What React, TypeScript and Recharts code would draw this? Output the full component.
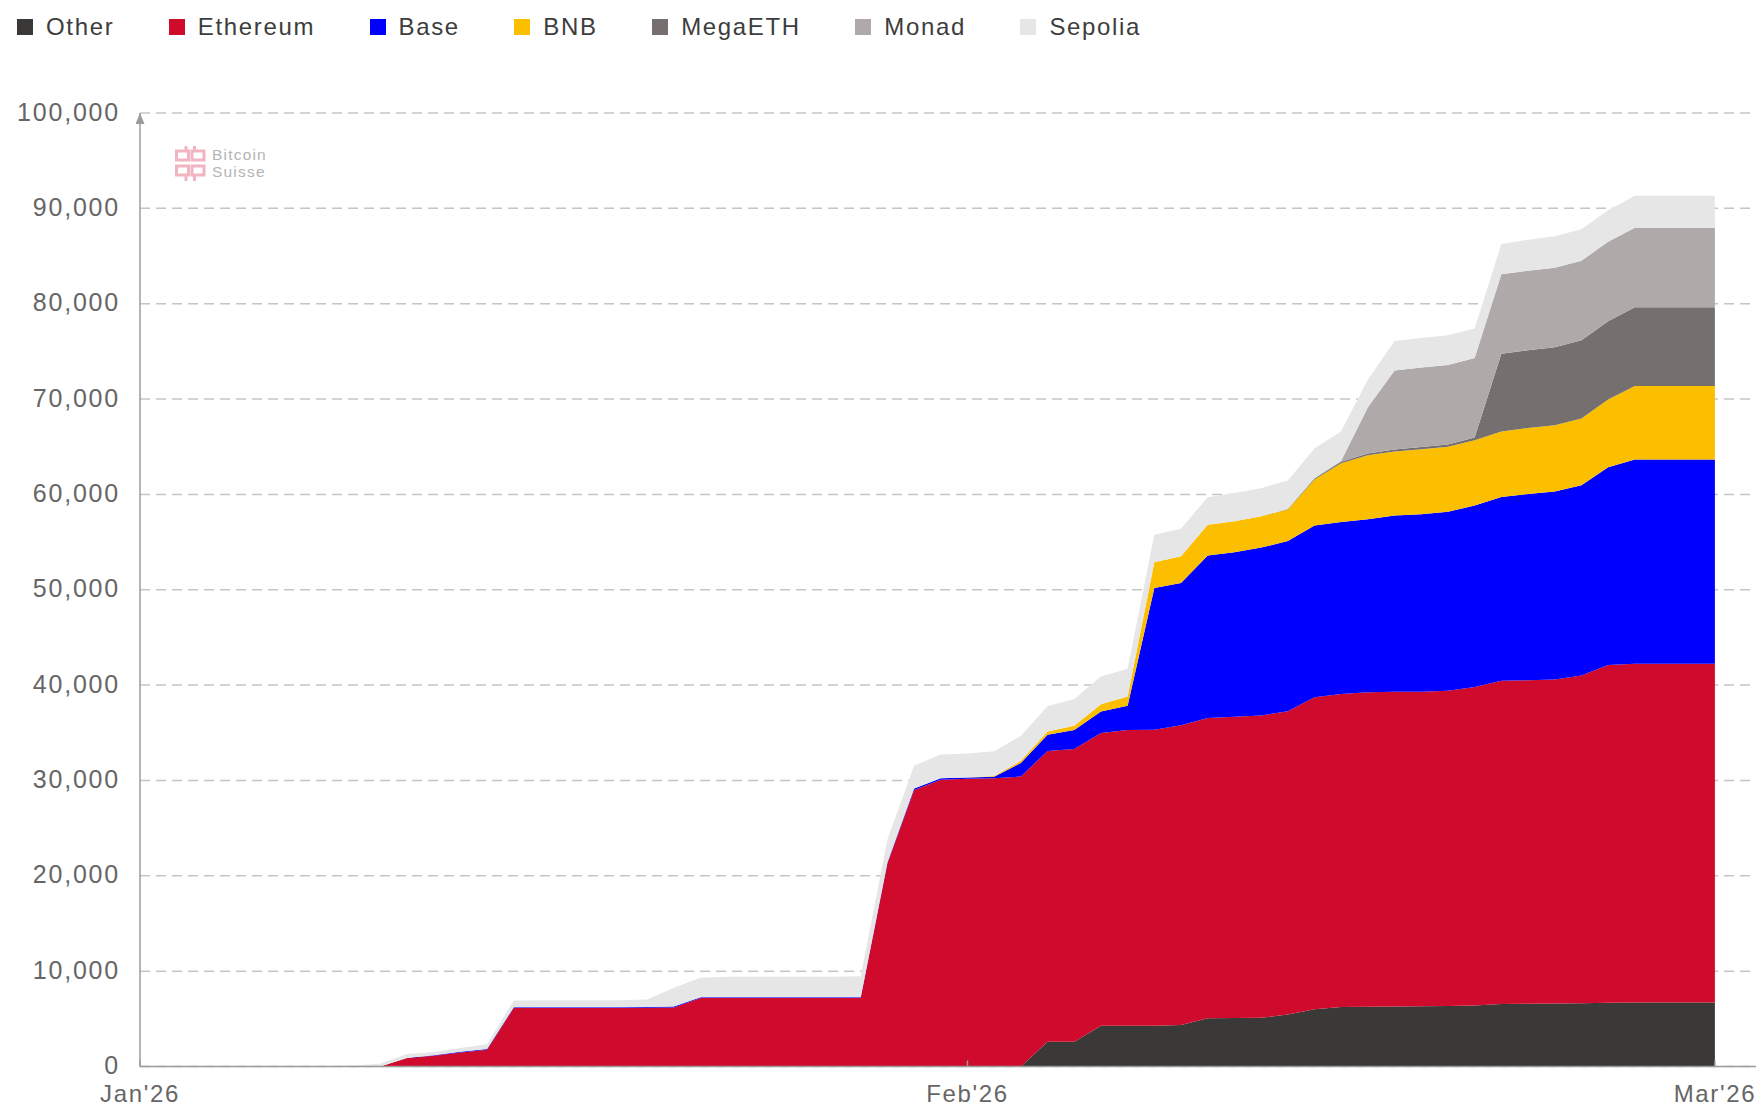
import { AreaChart, Area, XAxis, YAxis, CartesianGrid } from "recharts";

// day index 0 = 1 Jan 2026, 59 = 1 Mar 2026
const days = Array.from({ length: 60 }, (_, i) => i);

const xTickDays = [0, 31, 59];
const xTickLabels = ["Jan'26", "Feb'26", "Mar'26"];
const yTicks = [0, 10000, 20000, 30000, 40000, 50000, 60000, 70000, 80000, 90000, 100000];

const seriesNames = ["Other", "Ethereum", "Base", "BNB", "MegaETH", "Monad", "Sepolia"];
const seriesColors = ["#3a3937", "#cf0a2c", "#0000ff", "#fbbf00", "#75706f", "#afaaa9", "#e6e6e6"];

const other = [
  0, 0, 0, 0, 0, 0, 0, 0, 0, 0,
  0, 0, 0, 0, 0, 0, 0, 0, 0, 0,
  0, 0, 0, 0, 0, 0, 0, 0, 0, 0,
  0, 0, 0, 0, 2600, 2600, 4270, 4270, 4280, 4350,
  5070, 5080, 5100, 5450, 6000, 6250, 6270, 6300, 6320, 6350,
  6400, 6550, 6580, 6600, 6630, 6680, 6720, 6720, 6720, 6720,
];
const ethereum = [
  0, 0, 0, 0, 0, 0, 0, 0, 0, 0,
  880, 1120, 1470, 1750, 6140, 6140, 6140, 6140, 6140, 6160,
  6200, 7190, 7190, 7190, 7190, 7190, 7190, 7190, 21300, 29000,
  30070, 30170, 30240, 30420, 30500, 30700, 30700, 31030, 31050, 31440,
  31490, 31590, 31720, 31820, 32730, 32810, 32980, 32990, 32990, 33050,
  33400, 33900, 33920, 34000, 34370, 35420, 35530, 35530, 35530, 35530,
];
const base = [
  0, 0, 0, 0, 0, 0, 0, 0, 0, 0,
  0, 50, 80, 80, 80, 80, 80, 80, 80, 80,
  80, 80, 80, 80, 80, 80, 80, 80, 100, 150,
  150, 150, 150, 1400, 1690, 2000, 2270, 2530, 14850, 14910,
  17020, 17260, 17610, 17830, 18010, 18050, 18150, 18510, 18600, 18770,
  19040, 19290, 19540, 19700, 19970, 20750, 21420, 21420, 21420, 21420,
];
const bnb = [
  0, 0, 0, 0, 0, 0, 0, 0, 0, 0,
  0, 0, 0, 0, 0, 0, 0, 0, 0, 0,
  0, 0, 0, 0, 0, 0, 0, 0, 0, 0,
  0, 0, 70, 240, 350, 430, 760, 980, 2700, 2810,
  3230, 3260, 3270, 3320, 4820, 6160, 6700, 6700, 6820, 6820,
  6830, 6860, 6930, 6940, 7000, 7110, 7710, 7710, 7710, 7710,
];
const megaeth = [
  0, 0, 0, 0, 0, 0, 0, 0, 0, 0,
  0, 0, 0, 0, 0, 0, 0, 0, 0, 0,
  0, 0, 0, 0, 0, 0, 0, 0, 0, 0,
  0, 0, 0, 0, 0, 0, 0, 0, 0, 0,
  0, 0, 0, 50, 100, 150, 200, 200, 250, 250,
  300, 8140, 8150, 8200, 8200, 8210, 8240, 8240, 8240, 8240,
];
const monad = [
  0, 0, 0, 0, 0, 0, 0, 0, 0, 0,
  0, 0, 0, 0, 0, 0, 0, 0, 0, 0,
  0, 0, 0, 0, 0, 0, 0, 0, 0, 0,
  0, 0, 0, 0, 0, 0, 0, 0, 0, 0,
  0, 0, 0, 0, 50, 100, 4850, 8300, 8320, 8340,
  8340, 8340, 8340, 8340, 8340, 8340, 8340, 8340, 8340, 8340,
];
const sepolia = [
  0, 0, 0, 0, 10, 20, 30, 50, 100, 300,
  420, 350, 400, 500, 700, 720, 720, 720, 720, 780,
  1970, 2030, 2130, 2130, 2130, 2130, 2130, 2200, 2400, 2400,
  2500, 2500, 2600, 2620, 2650, 2800, 2900, 2900, 2900, 2900,
  2900, 2950, 2950, 3000, 3100, 3100, 2900, 3100, 3100, 3100,
  3100, 3180, 3250, 3300, 3300, 3300, 3370, 3370, 3370, 3370,
];

const seriesValues = [other, ethereum, base, bnb, megaeth, monad, sepolia];

const rows = days.map((day, i) => {
  const row: Record<string, number> = { day };
  seriesNames.forEach((name, s) => {
    row[name] = seriesValues[s][i];
  });
  return row;
});

const FONT = '"Liberation Sans", Arial, sans-serif';
const SPACING = 1.65;

function YTick({ x, y, payload }: any) {
  return (
    <text x={x} y={y} dy={7.5} textAnchor="end" fill="#666" fontSize={25} fontFamily={FONT} style={{ letterSpacing: 1.8 }}>
      {Number(payload.value).toLocaleString("en-US")}
    </text>
  );
}

function XTick({ x, y, payload }: any) {
  const idx = xTickDays.indexOf(payload.value);
  return (
    <g>
      <line x1={x} x2={x} y1={y - 6} y2={y} stroke="#9b9b9b" strokeWidth={1.5} />
      <text x={x} y={y + 35} textAnchor="middle" fill="#666" fontSize={24} fontFamily={FONT} style={{ letterSpacing: SPACING }}>
        {idx >= 0 ? xTickLabels[idx] : ""}
      </text>
    </g>
  );
}

function Legend() {
  return (
    <div style={{ position: "absolute", left: 17, top: 13, display: "flex", alignItems: "center", lineHeight: "28px", fontSize: 24, fontFamily: FONT, color: "#3d3d3d", letterSpacing: SPACING, whiteSpace: "nowrap" }}>
      {seriesNames.map((name, i) => (
        <div key={name} style={{ display: "flex", alignItems: "center", marginRight: 54.5 }}>
          <span style={{ display: "inline-block", width: 16, height: 16, background: seriesColors[i], marginRight: 13 }} />
          <span>{name}</span>
        </div>
      ))}
    </div>
  );
}

function Watermark() {
  const pink = "#f1b4c1";
  return (
    <div style={{ position: "absolute", left: 175, top: 146, display: "flex", alignItems: "center" }}>
      <svg width={31} height={35} viewBox="0 0 31 35">
        <g fill="none" stroke={pink} strokeWidth={3}>
          <rect x={1.5} y={5} width={12} height={9} />
          <rect x={17} y={5} width={12} height={9} />
          <line x1={11} x2={11} y1={0} y2={5} />
          <line x1={19.5} x2={19.5} y1={0} y2={5} />
          <rect x={1.5} y={20} width={12} height={9} />
          <rect x={17} y={20} width={12} height={9} />
          <line x1={11} x2={11} y1={29} y2={35} />
          <line x1={19.5} x2={19.5} y1={29} y2={35} />
        </g>
      </svg>
      <div style={{ marginLeft: 6, fontFamily: FONT, fontSize: 15.5, lineHeight: "16.5px", color: "#b4b4b4", letterSpacing: 1.2 }}>
        <div>Bitcoin</div>
        <div>Suisse</div>
      </div>
    </div>
  );
}

export default function App() {
  return (
    <div style={{ position: "absolute", left: 0, top: 0, width: 1756, height: 1106, background: "#fff", overflow: "hidden" }}>
      <AreaChart width={1756} height={1106} data={rows} margin={{ top: 113, right: 0, left: 0, bottom: 0 }}>
        <defs>
          <marker id="yArrow" markerUnits="userSpaceOnUse" markerWidth={9} markerHeight={11} viewBox="0 0 9 11" refX={4.5} refY={0} orient="0">
            <path d="M0,11 L4.5,0 L9,11 Z" fill="#9b9b9b" />
          </marker>
        </defs>
        <CartesianGrid vertical={false} stroke="#c6c6c6" strokeWidth={1.5} strokeDasharray="10 6" />
        {seriesNames.map((name, i) => (
          <Area
            key={name}
            type="linear"
            dataKey={name}
            stackId="chains"
            fill={seriesColors[i]}
            fillOpacity={1}
            stroke="none"
            dot={false}
            activeDot={false}
            isAnimationActive={false}
          />
        ))}
        <XAxis
          dataKey="day"
          type="number"
          domain={[0, 60.54]}
          ticks={xTickDays}
          interval={0}
          tick={<XTick />}
          tickSize={0}
          tickMargin={0}
          tickLine={false}
          height={39.5}
          axisLine={{ stroke: "#9b9b9b", strokeWidth: 1.5 }}
        />
        <YAxis
          type="number"
          domain={[0, 100000]}
          ticks={yTicks}
          interval={0}
          width={140}
          tick={<YTick />}
          tickSize={0}
          tickMargin={20}
          tickLine={false}
          axisLine={{ stroke: "#9b9b9b", strokeWidth: 1.5, markerStart: "url(#yArrow)" }}
        />
      </AreaChart>
      <Legend />
      <Watermark />
    </div>
  );
}
